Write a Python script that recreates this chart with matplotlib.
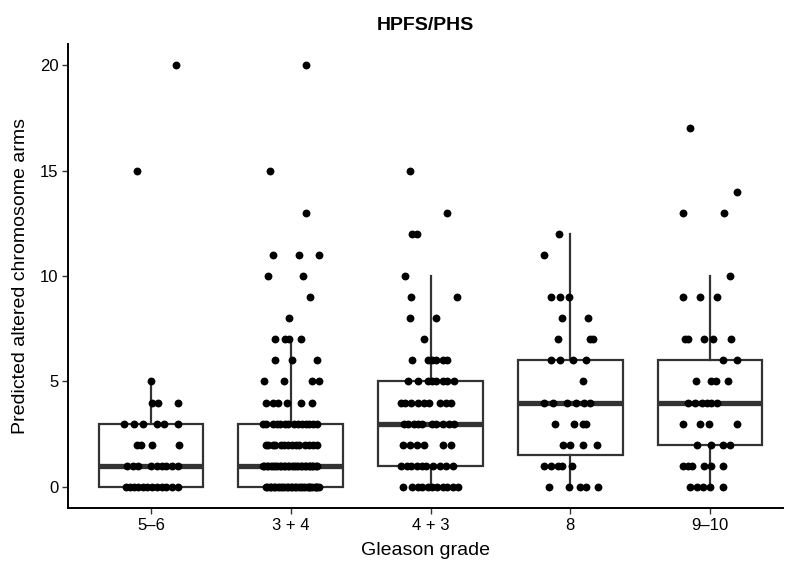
import numpy as np
import matplotlib.pyplot as plt

plt.rcParams["font.family"] = ["Liberation Sans", "DejaVu Sans"]

# ── Categories ──
GRADES = ["5\u20136", "3 + 4", "4 + 3", "8", "9\u201310"]

# ── Points per group: arm counts and the jitter offset of each point ──
ARMS_56 = [20, 15, 5, 4, 4, 4,
           3, 3, 3, 3, 3, 3,
           2, 2, 2, 2,
           1, 1, 1, 1, 1, 1, 1, 1, 1,
           0, 0, 0, 0, 0, 0, 0, 0, 0, 0, 0, 0]
JIT_56 = [0.18, -0.10, 0.00, 0.01, 0.05, 0.19,
          -0.19, -0.12, -0.06, 0.04, 0.09, 0.19,
          -0.10, -0.07, 0.01, 0.20,
          -0.17, -0.13, -0.09, 0.00, 0.04, 0.08, 0.11, 0.15, 0.19,
          -0.18, -0.15, -0.12, -0.09, -0.06, -0.03, 0.01, 0.04, 0.08, 0.11, 0.15, 0.19]

ARMS_34 = ([20, 15, 13, 11, 11, 11, 10, 10, 9, 8,
            7, 7, 7, 7, 6, 6, 6, 5, 5, 5, 5,
            4, 4, 4, 4, 4, 4]
           + [3] * 14 + [2] * 14 + [1] * 28 + [0] * 28)
JIT_34 = ([0.11, -0.15, 0.11, -0.13, 0.06, 0.20, -0.16, 0.09, 0.14, -0.01,
           -0.11, -0.04, -0.01, 0.07, -0.11, 0.01, 0.19, -0.19, -0.05, 0.15, 0.20,
           -0.18, -0.13, -0.09, -0.03, 0.07, 0.15]
          + [-0.20, -0.18, -0.13, -0.10, -0.08, -0.04, -0.02, 0.02, 0.05, 0.08,
             0.11, 0.13, 0.16, 0.19]
          + [-0.18, -0.16, -0.13, -0.11, -0.07, -0.05, -0.02, 0.01, 0.04, 0.06,
             0.10, 0.13, 0.16, 0.19]
          + [-0.20, -0.19, -0.17, -0.16, -0.14, -0.13, -0.11, -0.10, -0.08, -0.07,
             -0.05, -0.04, -0.02, -0.01, 0.01, 0.02, 0.04, 0.05, 0.07, 0.08,
             0.10, 0.11, 0.13, 0.14, 0.15, 0.16, 0.18, 0.19]
          + [-0.18, -0.17, -0.15, -0.14, -0.12, -0.11, -0.09, -0.08, -0.06, -0.05,
             -0.03, -0.02, 0.00, 0.01, 0.03, 0.04, 0.06, 0.07, 0.09, 0.10,
             0.12, 0.13, 0.14, 0.15, 0.17, 0.18, 0.19, 0.20])

ARMS_43 = ([15, 13, 12, 12, 10, 9, 9, 8, 8, 7]
           + [6] * 6 + [5] * 8 + [4] * 9 + [3] * 10 + [2] * 6 + [1] * 10 + [0] * 11)
JIT_43 = ([-0.15, 0.12, -0.13, -0.10, -0.18, -0.14, 0.19, -0.15, 0.04, -0.05]
          + [-0.13, -0.02, 0.01, 0.04, 0.09, 0.12]
          + [-0.16, -0.09, -0.02, 0.01, 0.04, 0.09, 0.12, 0.17]
          + [-0.21, -0.18, -0.14, -0.09, -0.05, -0.01, 0.07, 0.11, 0.15]
          + [-0.19, -0.16, -0.12, -0.09, -0.06, 0.01, 0.04, 0.09, 0.13, 0.17]
          + [-0.20, -0.15, -0.10, -0.05, 0.09, 0.15]
          + [-0.21, -0.17, -0.14, -0.10, -0.06, -0.03, 0.02, 0.07, 0.11, 0.16]
          + [-0.20, -0.13, -0.09, -0.06, -0.02, 0.01, 0.05, 0.09, 0.12, 0.16, 0.20])

ARMS_8 = [12, 11, 9, 9, 9, 8, 8, 7, 7, 7,
          6, 6, 6, 6, 5, 4, 4, 4, 4, 4, 4,
          3, 3, 3, 3, 2, 2, 2, 2,
          1, 1, 1, 1, 1, 0, 0, 0, 0, 0]
JIT_8 = [-0.08, -0.19, -0.14, -0.07, -0.01, -0.06, 0.13, -0.09, 0.14, 0.16,
         -0.14, -0.07, 0.02, 0.11, 0.09, -0.19, -0.12, -0.02, 0.04, 0.10, 0.14,
         -0.11, 0.03, 0.09, 0.11, -0.05, 0.00, 0.09, 0.19,
         -0.19, -0.14, -0.09, -0.06, 0.01, -0.15, -0.01, 0.07, 0.11, 0.20]

ARMS_910 = [17, 14, 13, 13, 10, 9, 9, 9,
            7, 7, 7, 7, 7, 6, 6, 5, 5, 5, 5,
            4, 4, 4, 4, 4, 4, 3, 3, 3, 3, 2, 2, 2, 2,
            1, 1, 1, 1, 1, 1, 0, 0, 0, 0, 0]
JIT_910 = [-0.14, 0.19, -0.19, 0.10, 0.14, -0.19, -0.07, 0.05,
           -0.18, -0.16, -0.04, 0.02, 0.15, 0.09, 0.19, -0.10, 0.01, 0.04, 0.13,
           -0.16, -0.11, -0.06, -0.02, 0.01, 0.05, -0.19, -0.07, -0.01, 0.19,
           -0.09, 0.01, 0.09, 0.14,
           -0.19, -0.16, -0.13, -0.04, 0.01, 0.09, -0.14, -0.09, -0.05, 0.00, 0.09]

GROUP_ARMS = [ARMS_56, ARMS_34, ARMS_43, ARMS_8, ARMS_910]
GROUP_JIT = [JIT_56, JIT_34, JIT_43, JIT_8, JIT_910]

# ── Box statistics ──
Q1 = [0, 0, 1, 1.5, 2]
MEDIAN = [1, 1, 3, 4, 4]
Q3 = [3, 3, 5, 6, 6]
WHISKER_LO = [0, 0, 0, 0, 0]
WHISKER_HI = [5, 7, 10, 12, 10]

BOX_COLOR = "#333333"

fig = plt.figure(figsize=(7.88, 5.71), dpi=100)
ax = fig.add_axes([68 / 788, 63 / 571, (783 - 68) / 788, (508 - 44) / 571])

stats = []
for i in range(len(GRADES)):
    stats.append({"med": MEDIAN[i], "q1": Q1[i], "q3": Q3[i],
                  "whislo": WHISKER_LO[i], "whishi": WHISKER_HI[i], "fliers": []})
ax.bxp(stats, positions=np.arange(1, len(GRADES) + 1), widths=0.75,
       showcaps=False, showfliers=False, patch_artist=True,
       boxprops=dict(facecolor="white", edgecolor=BOX_COLOR, linewidth=1.6),
       whiskerprops=dict(color=BOX_COLOR, linewidth=1.6),
       medianprops=dict(color=BOX_COLOR, linewidth=3.8, solid_capstyle="butt"),
       zorder=1)

for i, (arms, jit) in enumerate(zip(GROUP_ARMS, GROUP_JIT)):
    xs = (i + 1) + np.asarray(jit)
    ax.scatter(xs, arms, s=32, color="black", linewidths=0, zorder=3)

ax.set_xlim(1 - 83 / 139.75, 5 + 73 / 139.75)
ax.set_ylim(-1, 21)
ax.set_xticks(np.arange(1, len(GRADES) + 1))
ax.set_xticklabels(GRADES)
ax.set_yticks([0, 5, 10, 15, 20])

for side in ["top", "right"]:
    ax.spines[side].set_visible(False)
for side in ["left", "bottom"]:
    ax.spines[side].set_linewidth(1.4)
    ax.spines[side].set_color("black")
ax.tick_params(axis="both", length=4, width=1.0, color="#333333",
               labelsize=12, labelcolor="black", pad=3)

ax.set_xlabel("Gleason grade", fontsize=14, labelpad=7)
ax.set_ylabel("Predicted altered chromosome arms", fontsize=14, labelpad=8)
ax.set_title("HPFS/PHS", fontsize=14, fontweight="bold", pad=10)

fig.savefig("out.png", dpi=100)
